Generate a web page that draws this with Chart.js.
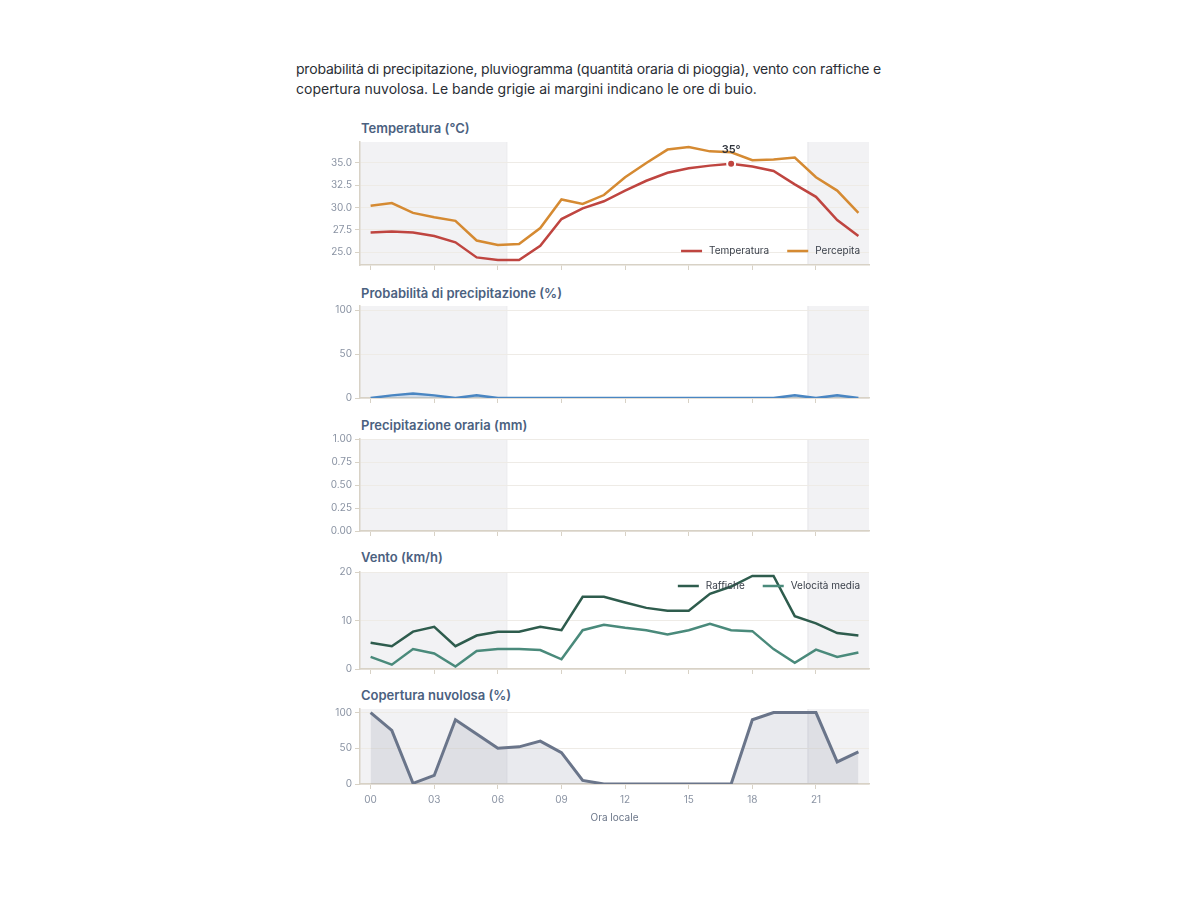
<!DOCTYPE html>
<html><head><meta charset="utf-8">
<script src="https://cdn.jsdelivr.net/npm/chart.js@4.4.1/dist/chart.umd.min.js"></script>
<style>
body{margin:0;background:#fff;font-family:Inter,sans-serif;width:1200px;height:900px;overflow:hidden;position:relative}
#intro{position:absolute;left:296px;top:64px;width:640px;height:40px;overflow:hidden;}
#intro p{margin:0;position:absolute;top:-5px;left:0;font-size:14px;line-height:20px;color:#2a2e35;white-space:nowrap}
#intro .l1{letter-spacing:-0.2px}
.ttl{position:absolute;left:361px;font:600 13px Inter,sans-serif;color:#4b6180;line-height:16px;white-space:nowrap}
canvas{position:absolute;left:300px;}
</style></head>
<body>
<div id="intro"><p><span class="l1">probabilità di precipitazione, pluviogramma (quantità oraria di pioggia), vento con raffiche e</span><br>copertura nuvolosa. Le bande grigie ai margini indicano le ore di buio.</p></div>

<div class="ttl" style="top:120px">Temperatura (°C)</div>
<canvas id="c1" width="580" height="141" style="top:133px"></canvas>
<div class="ttl" style="top:285px">Probabilità di precipitazione (%)</div>
<canvas id="c2" width="580" height="110" style="top:297px"></canvas>
<div class="ttl" style="top:417px">Precipitazione oraria (mm)</div>
<canvas id="c3" width="580" height="110" style="top:430px"></canvas>
<div class="ttl" style="top:549px">Vento (km/h)</div>
<canvas id="c4" width="580" height="115" style="top:563px"></canvas>
<div class="ttl" style="top:687px">Copertura nuvolosa (%)</div>
<canvas id="c5" width="580" height="124" style="top:700px"></canvas>

<script>
const hours = ['00','01','02','03','04','05','06','07','08','09','10','11','12','13','14','15','16','17','18','19','20','21','22','23'];
const temperature = [27.2,27.3,27.2,26.8,26.1,24.4,24.1,24.1,25.7,28.7,29.9,30.7,31.9,33.0,33.9,34.4,34.7,34.9,34.6,34.1,32.6,31.2,28.6,26.8];
const apparent = [30.2,30.5,29.4,28.9,28.5,26.3,25.8,25.9,27.7,30.9,30.4,31.4,33.4,35.0,36.5,36.8,36.3,36.2,35.3,35.4,35.6,33.4,31.9,29.4];
const precipProb = [0,3,5,3,0,3,0,0,0,0,0,0,0,0,0,0,0,0,0,0,3,0,3,0];
const precipMm = [0,0,0,0,0,0,0,0,0,0,0,0,0,0,0,0,0,0,0,0,0,0,0,0];
const gusts = [5.4,4.7,7.7,8.7,4.7,6.9,7.7,7.7,8.7,8.0,14.9,14.9,13.7,12.6,12.0,12.0,15.5,17.0,19.2,19.2,10.9,9.4,7.4,6.9];
const windMean = [2.5,0.9,4.1,3.2,0.5,3.7,4.1,4.1,3.9,2.0,8.0,9.1,8.5,8.0,7.1,8.0,9.3,8.0,7.8,4.1,1.3,4.0,2.5,3.4];
const cloud = [100,75,1,12,90,70,50,52,60,44,5,0,0,0,0,0,0,0,90,100,100,100,31,45];
const sunrise = 6.4;
const sunset = 20.6;

const AXIS = '#d8d2c6', GRID = '#eeebe6', TICK = '#8a93a3';
const FONT = 'Inter';

const nightBands = {
  id: 'nightBands',
  beforeDraw(chart) {
    const a = chart.chartArea, xs = chart.scales.x, ctx = chart.ctx;
    const x1 = xs.getPixelForValue(sunrise), x2 = xs.getPixelForValue(sunset);
    ctx.save();
    ctx.fillStyle = '#f2f2f4';
    ctx.fillRect(a.left, a.top, x1 - a.left, a.bottom - a.top);
    ctx.fillRect(x2, a.top, a.right - x2, a.bottom - a.top);
    ctx.strokeStyle = '#e7e7ea'; ctx.lineWidth = 1;
    ctx.beginPath();
    ctx.moveTo(x1 + 0.5, a.top); ctx.lineTo(x1 + 0.5, a.bottom);
    ctx.moveTo(x2 + 0.5, a.top); ctx.lineTo(x2 + 0.5, a.bottom);
    ctx.stroke();
    ctx.restore();
  }
};

const innerLegend = {
  id: 'innerLegend',
  afterDraw(chart, args, opts) {
    if (!opts || !opts.show) return;
    const ctx = chart.ctx, a = chart.chartArea;
    ctx.save();
    ctx.font = '10px ' + FONT;
    ctx.textBaseline = 'middle'; ctx.textAlign = 'left';
    const y = opts.where === 'top' ? a.top + 14 : a.bottom - 14;
    let x = a.right - 9;
    const ds = chart.data.datasets;
    for (let i = ds.length - 1; i >= 0; i--) {
      const w = ctx.measureText(ds[i].label).width;
      ctx.fillStyle = '#3b414b';
      ctx.fillText(ds[i].label, x - w, y);
      x -= w + 7;
      ctx.strokeStyle = ds[i].borderColor; ctx.lineWidth = 2.5;
      ctx.beginPath(); ctx.moveTo(x - 21, y); ctx.lineTo(x, y); ctx.stroke();
      x -= 39;
    }
    ctx.restore();
  }
};

const maxLabel = {
  id: 'maxLabel',
  afterDatasetsDraw(chart, args, opts) {
    if (!opts || !opts.show) return;
    const data = chart.data.datasets[0].data;
    let idx = 0; data.forEach((v, i) => { if (v > data[idx]) idx = i; });
    const el = chart.getDatasetMeta(0).data[idx];
    const ctx = chart.ctx;
    ctx.save();
    ctx.font = '600 11px ' + FONT; ctx.fillStyle = '#2f343c';
    ctx.textAlign = 'center'; ctx.textBaseline = 'middle';
    ctx.fillText(Math.round(data[idx]) + '°', el.x, el.y - 14);
    ctx.restore();
  }
};

function makeChart(id, type, datasets, y, opts) {
  opts = opts || {};
  const showX = !!opts.showX;
  return new Chart(document.getElementById(id), {
    type: type,
    data: { labels: hours, datasets: datasets },
    plugins: [nightBands, innerLegend, maxLabel],
    options: {
      responsive: false, animation: false, devicePixelRatio: 1,
      layout: { padding: { top: 8, right: 11, left: 0, bottom: 0 } },
      plugins: {
        legend: { display: false }, tooltip: { enabled: false },
        innerLegend: { show: !!opts.legend, where: opts.legend },
        maxLabel: { show: !!opts.maxLabel }
      },
      scales: {
        x: {
          type: 'category', offset: true,
          grid: { display: true, drawOnChartArea: false, drawTicks: true, tickLength: 5, color: AXIS, offset: false },
          border: { display: true, color: AXIS, width: 1.5 },
          ticks: { display: showX, autoSkip: false, maxRotation: 0, padding: 5, color: TICK, font: { family: FONT, size: 10 } },
          afterBuildTicks: s => { s.ticks = s.ticks.filter(t => t.value % 3 === 0); },
          afterFit: s => { s.height = showX ? 40 : 8; },
          title: { display: showX, text: 'Ora locale', color: '#6b7689', font: { family: FONT, size: 10 }, padding: { top: 2, bottom: 0 } }
        },
        y: {
          min: y.min, max: y.max,
          ticks: { stepSize: y.step, includeBounds: false, padding: 3, color: TICK, font: { family: FONT, size: 10 },
                   callback: v => y.dec != null ? Number(v).toFixed(y.dec) : v },
          grid: { color: GRID, tickLength: 5, tickColor: AXIS, drawTicks: true },
          border: { display: true, color: AXIS, width: 1.5 },
          afterFit: s => { s.width = 60; }
        }
      }
    }
  });
}

makeChart('c1', 'line', [
  { label: 'Temperatura', data: temperature, borderColor: '#bf4540', backgroundColor: '#bf4540', borderWidth: 2.5, tension: 0,
    pointRadius: ctx => { const m = Math.max(...temperature); return temperature[ctx.dataIndex] === m ? 4 : 0; },
    pointBorderColor: '#ffffff', pointBorderWidth: 2, pointBackgroundColor: '#bf4540' },
  { label: 'Percepita', data: apparent, borderColor: '#d58a32', backgroundColor: '#d58a32', borderWidth: 2.5, tension: 0, pointRadius: 0 }
], { min: 23.55, max: 37.35, step: 2.5, dec: 1 }, { legend: 'bottom', maxLabel: true });

makeChart('c2', 'line', [
  { label: 'Probabilità', data: precipProb, borderColor: '#4a86c2', backgroundColor: 'rgba(74,134,194,0.2)', fill: 'origin', borderWidth: 2.5, tension: 0, pointRadius: 0 }
], { min: 0, max: 105, step: 50 });

makeChart('c3', 'bar', [
  { label: 'Pioggia', data: precipMm, backgroundColor: '#4a86c2', borderWidth: 0 }
], { min: 0, max: 1, step: 0.25, dec: 2 });

makeChart('c4', 'line', [
  { label: 'Raffiche', data: gusts, borderColor: '#2e5c4d', backgroundColor: '#2e5c4d', borderWidth: 2.5, tension: 0, pointRadius: 0 },
  { label: 'Velocità media', data: windMean, borderColor: '#4a8a7b', backgroundColor: '#4a8a7b', borderWidth: 2.5, tension: 0, pointRadius: 0 }
], { min: 0, max: 20, step: 10 }, { legend: 'top' });

makeChart('c5', 'line', [
  { label: 'Nuvolosità', data: cloud, borderColor: '#6a758a', backgroundColor: 'rgba(106,117,138,0.15)', fill: 'origin', borderWidth: 3, tension: 0, pointRadius: 0 }
], { min: 0, max: 105, step: 50 }, { showX: true });
</script>
</body></html>
